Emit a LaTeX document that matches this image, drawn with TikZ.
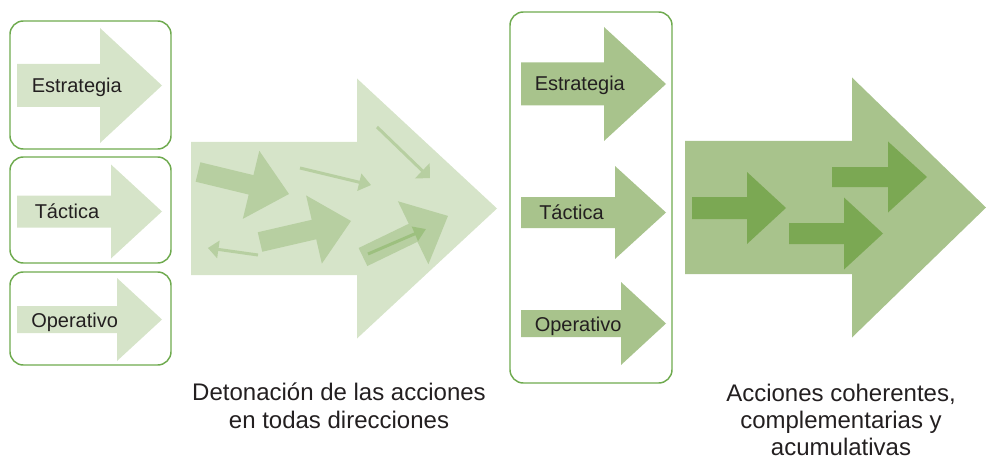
\documentclass[tikz,border=0pt]{standalone}
\usepackage{fontspec}
\setmainfont{Liberation Sans}
\definecolor{claro}{HTML}{D6E4C9}
\definecolor{medio}{HTML}{B7CFA1}
\definecolor{verde}{HTML}{A8C38C}
\definecolor{oscuro}{HTML}{7BA853}
\definecolor{linea}{HTML}{9DC07F}
\definecolor{borde}{HTML}{6EAA4E}
\definecolor{texto}{HTML}{231F20}
% flecha: opciones, largo, largo de la punta, medio ancho del cuerpo, medio ancho de la punta
\newcommand{\flecha}[5]{\fill[#1] (0,-#4) -- (#2-#3,-#4) -- (#2-#3,-#5) -- (#2,0) -- (#2-#3,#5) -- (#2-#3,#4) -- (0,#4) -- cycle;}
\begin{document}
\begin{tikzpicture}[
		x=0.75pt,y=-0.75pt,
		caja/.style={draw=borde,line width=1.1pt,rounded corners=10pt},
		etiq/.style={font=\fontsize{15}{18}\selectfont,text=texto,inner sep=0pt,anchor=base west},
		pie/.style={font=\fontsize{18}{20.5}\selectfont,text=texto,align=center,inner sep=0pt,anchor=north}
		]
		\useasboundingbox (0,0) rectangle (986,460);
		% niveles a la izquierda
		\flecha{claro,shift={(17,85.5)}}{145}{62}{21.5}{57.5}
		\flecha{claro,shift={(17,211.5)}}{145}{51}{16}{47}
		\flecha{claro,shift={(17,319.5)}}{145}{45}{13.5}{41.5}
		\draw[caja] (10,21) rectangle (171,149);
		\draw[caja] (10,157) rectangle (171,263);
		\draw[caja] (10,272) rectangle (171,365);
		\node[etiq] (E1) at (31.5,93) {Estrategia};
		\node[etiq] (T1) at (34.5,218) {Táctica};
		\node[etiq] (O1) at (31,327) {Operativo};
		% acciones en todas direcciones
		\flecha{claro,shift={(191,208.5)}}{306}{140}{66.5}{130}
		\flecha{medio,shift={(198,172)},rotate=-13.6}{93.6}{39}{10}{35}
		\flecha{medio,shift={(260,242)},rotate=13}{93.4}{38}{10}{35}
		\flecha{medio,shift={(300,168)},rotate=-13.5}{73}{12}{1.5}{9}
		\flecha{medio,shift={(377,127)},rotate=-44}{73.6}{10.6}{1.5}{10.6}
		\flecha{medio,shift={(258,255)},rotate=172}{50.5}{10.5}{1.5}{9}
		\flecha{medio,shift={(363,257)},rotate=25.8}{94.4}{38.7}{10}{35}
		\flecha{linea,shift={(368,254)},rotate=23.3}{63}{12}{1.5}{8}
		% niveles a la derecha
		\flecha{verde,shift={(521,84)}}{145}{62}{21.5}{57}
		\flecha{verde,shift={(521,212.5)}}{145}{51}{15.5}{46.5}
		\flecha{verde,shift={(521,323.5)}}{145}{45}{13.5}{41.5}
		\draw[caja] (510,12) rectangle (672,383);
		\node[etiq] (E2) at (534.5,91) {Estrategia};
		\node[etiq] (T2) at (539,219) {Táctica};
		\node[etiq] (O2) at (534.5,331) {Operativo};
		% acciones coherentes
		\flecha{verde,shift={(685,207.5)}}{301}{134}{66.5}{130}
		\flecha{oscuro,shift={(692,208)}}{94}{39}{11}{36}
		\flecha{oscuro,shift={(789,233.5)}}{94}{39}{10.5}{36}
		\flecha{oscuro,shift={(832,177)}}{95}{39}{10}{35.5}
		% textos de abajo
		\node[pie] (D) at (339,383) {Detonación de las acciones\\en todas direcciones};
		\node[pie] (A) at (841,383.5) {Acciones coherentes,\\complementarias y\\acumulativas};
	\end{tikzpicture}
\end{document}
